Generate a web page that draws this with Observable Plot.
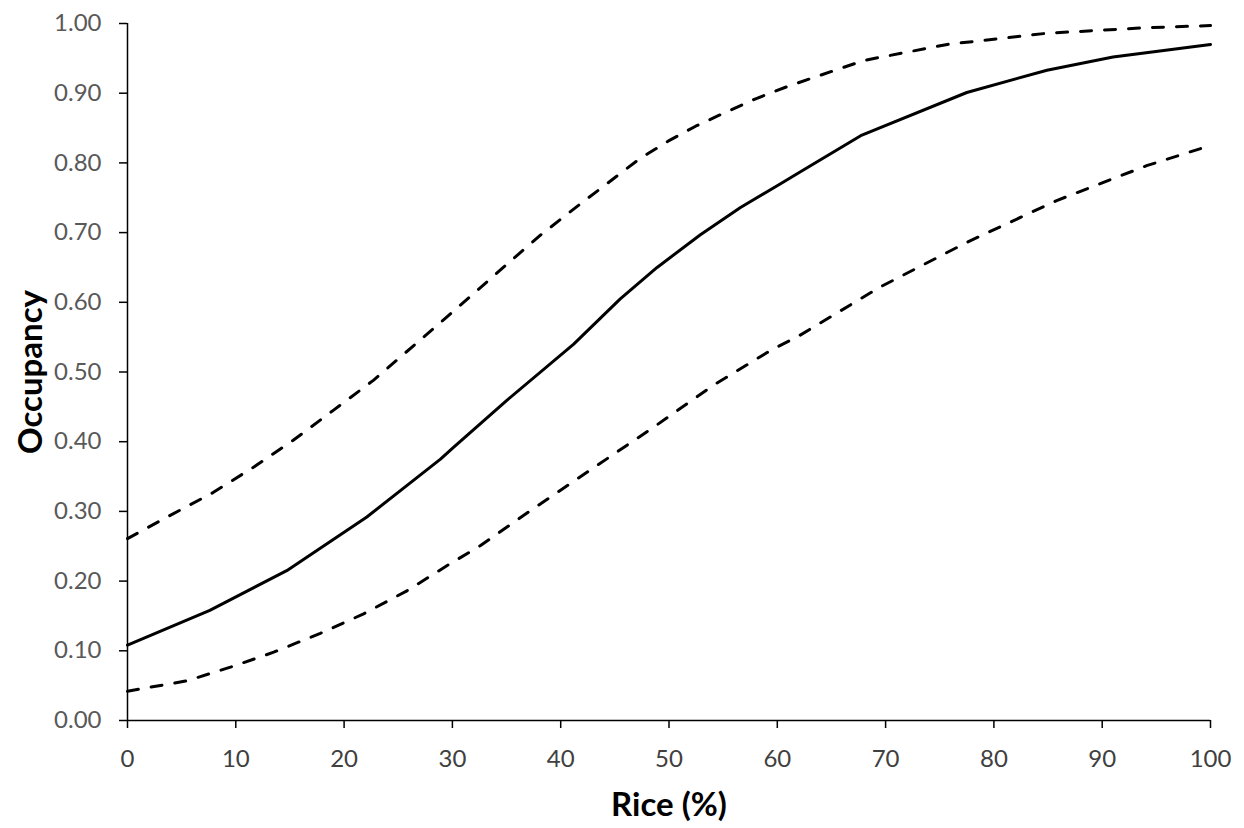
<!DOCTYPE html>
<html>
<head>
<meta charset="utf-8">
<script src="https://cdn.jsdelivr.net/npm/d3@7"></script>
<script src="https://cdn.jsdelivr.net/npm/@observablehq/plot@0.6"></script>
<style>
  html, body { margin: 0; padding: 0; background: #fff; }
  #chart svg { display: block; }
</style>
</head>
<body>
<div id="chart"></div>
<script>
// Mean occupancy (solid line)
const meanX = [0, 7.6, 14.7, 22.1, 28.9, 30.1, 35.0, 41.2, 45.5, 48.9, 52.9, 56.6, 60.3, 62.1, 67.7, 77.5, 84.9, 91.0, 100];
const meanY = [0.108, 0.158, 0.215, 0.292, 0.375, 0.392, 0.459, 0.540, 0.605, 0.650, 0.697, 0.736, 0.770, 0.787, 0.839, 0.901, 0.933, 0.952, 0.970];
// Upper confidence bound (dashed)
const upperX = [0, 3.9, 7.9, 11.6, 15.3, 19.0, 22.7, 29.5, 34.7, 38.1, 41.8, 47.3, 50, 52.5, 55, 58, 61.0, 68.0, 75.7, 84.9, 94.1, 100];
const upperY = [0.261, 0.294, 0.327, 0.363, 0.402, 0.445, 0.488, 0.579, 0.650, 0.696, 0.741, 0.806, 0.832, 0.853, 0.871, 0.892, 0.910, 0.947, 0.970, 0.986, 0.994, 0.997];
// Lower confidence bound (dashed)
const lowerX = [0, 5.5, 9.5, 13.5, 17.8, 21.8, 25.8, 29.8, 32.6, 37.2, 42.7, 48.6, 54.1, 59.6, 61.8, 69.5, 77.5, 85.8, 94.1, 100];
const lowerY = [0.042, 0.057, 0.0765, 0.098, 0.125, 0.153, 0.186, 0.225, 0.251, 0.301, 0.359, 0.421, 0.481, 0.533, 0.550, 0.622, 0.686, 0.746, 0.796, 0.825];

const xTicks = [0, 10, 20, 30, 40, 50, 60, 70, 80, 90, 100];
const yTicks = [0, 0.1, 0.2, 0.3, 0.4, 0.5, 0.6, 0.7, 0.8, 0.9, 1.0];
const xTitle = "Rice (%)";
const yTitle = "Occupancy";

const toRows = (xs, ys) => xs.map((x, i) => ({x, y: ys[i]}));
const mean = toRows(meanX, meanY);
const upper = toRows(upperX, upperY);
const lower = toRows(lowerX, lowerY);

const chart = Plot.plot({
  width: 1244,
  height: 828,
  marginLeft: 127,
  marginRight: 34,
  marginTop: 23,
  marginBottom: 108,
  style: {fontFamily: "Lato, 'Open Sans', sans-serif", fontSize: "24px", background: "#fff", overflow: "visible"},
  x: {domain: [0, 100]},
  y: {domain: [0, 1]},
  marks: [
    Plot.axisY({ticks: yTicks, tickFormat: d3.format(".2f"), tickSize: 8, tickPadding: 18, stroke: "#000", strokeWidth: 1.5, fill: "#595959", label: null}),
    Plot.axisX({ticks: xTicks, tickFormat: d3.format("d"), tickSize: 8, tickPadding: 21, stroke: "#000", strokeWidth: 1.5, fill: "#404040", label: null}),
    Plot.ruleX([0], {stroke: "#000", strokeWidth: 1.5}),
    Plot.ruleY([0], {stroke: "#000", strokeWidth: 1.5}),
    Plot.line(upper, {x: "x", y: "y", stroke: "#000", strokeWidth: 3, strokeDasharray: "11,13", strokeLinecap: "round"}),
    Plot.line(lower, {x: "x", y: "y", stroke: "#000", strokeWidth: 3, strokeDasharray: "11,13", strokeLinecap: "round"}),
    Plot.line(mean, {x: "x", y: "y", stroke: "#000", strokeWidth: 3}),
    Plot.text([xTitle], {frameAnchor: "bottom", dy: 85, lineAnchor: "middle", textAnchor: "middle", fontWeight: "bold", fontSize: 33, fill: "#000"}),
    Plot.text([yTitle], {frameAnchor: "left", dx: -96, rotate: -90, lineAnchor: "middle", textAnchor: "middle", fontWeight: "bold", fontSize: 33, fill: "#000"})
  ]
});
document.getElementById("chart").appendChild(chart);
</script>
</body>
</html>
